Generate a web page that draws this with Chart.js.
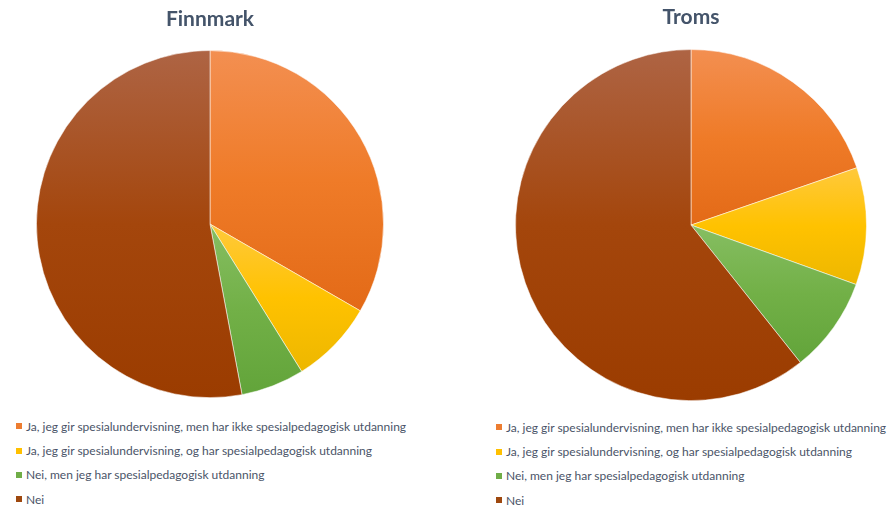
<!DOCTYPE html>
<html>
<head>
<meta charset="utf-8">
<script src="https://cdn.jsdelivr.net/npm/chart.js@4"></script>
<style>
  body { margin: 0; width: 891px; height: 506px; overflow: hidden; background: #fff; position: relative; font-family: Lato, sans-serif; }
  .pie { position: absolute; top: 0; }
  .legend { position: absolute; margin: 0; padding: 0; list-style: none; font-size: 12px; color: #4a5468; white-space: nowrap; }
  .legend li { height: 24.4px; display: flex; align-items: center; }
  .legend .box { display: inline-block; width: 6px; height: 6px; margin-right: 4px; }
</style>
</head>
<body>
<canvas id="finnmark" class="pie" width="400" height="398" style="left:10px"></canvas>
<canvas id="troms" class="pie" width="400" height="401" style="left:491px"></canvas>
<ul id="legendFinnmark" class="legend" style="left:16px; top:414px"></ul>
<ul id="legendTroms" class="legend" style="left:496px; top:415px"></ul>
<script>
const categories = [
  "Ja, jeg gir spesialundervisning, men har ikke spesialpedagogisk utdanning",
  "Ja, jeg gir spesialundervisning, og har spesialpedagogisk utdanning",
  "Nei, men jeg har spesialpedagogisk utdanning",
  "Nei"
];
const finnmarkValues = [33.3, 7.8, 5.9, 52.9];
const tromsValues = [19.7, 10.8, 8.8, 60.7];

const baseColors  = ["#ED7D31", "#FFC000", "#70AD47", "#9E480E"];
const lightColors = ["#F38F51", "#FFC93C", "#86BE62", "#AE6444"];
const midColors   = ["#EF7B28", "#FFC200", "#72B047", "#A4460C"];
const darkColors  = ["#E36A17", "#EDB700", "#62A43A", "#9B3C00"];

// excel-like gradient, one per slice, top to bottom of the slice's own box
function inArc(a0, a1, t) {
  for (let k = -1; k <= 2; k++) {
    const v = t + k * 2 * Math.PI;
    if (v >= a0 && v <= a1) return true;
  }
  return false;
}

const sliceGradient = {
  id: "sliceGradient",
  beforeDatasetsDraw(chart) {
    const ctx = chart.ctx;
    chart.getDatasetMeta(0).data.forEach((arc, i) => {
      const { x, y, startAngle, endAngle, outerRadius } = arc;
      let top = y, bottom = y;
      [startAngle, endAngle].forEach(a => {
        const py = y + Math.sin(a) * outerRadius;
        top = Math.min(top, py);
        bottom = Math.max(bottom, py);
      });
      if (inArc(startAngle, endAngle, -Math.PI / 2)) top = y - outerRadius;
      if (inArc(startAngle, endAngle, Math.PI / 2)) bottom = y + outerRadius;
      const g = ctx.createLinearGradient(0, top, 0, bottom);
      g.addColorStop(0, lightColors[i]);
      g.addColorStop(0.5, midColors[i]);
      g.addColorStop(1, darkColors[i]);
      arc.options = Object.assign({}, arc.options, { backgroundColor: g });
    });
  }
};

function makePie(id, title, values, titlePad) {
  new Chart(document.getElementById(id), {
    type: "pie",
    data: {
      labels: categories,
      datasets: [{
        data: values,
        backgroundColor: baseColors,
        borderColor: "rgba(255,255,255,0.7)",
        borderWidth: 0.75
      }]
    },
    options: {
      responsive: false,
      animation: false,
      layout: { padding: 0 },
      plugins: {
        legend: { display: false },
        tooltip: { enabled: false },
        title: {
          display: true,
          text: title,
          color: "#44546A",
          font: { family: "Lato", size: 21, weight: "bold", lineHeight: 1.2 },
          padding: titlePad
        }
      }
    },
    plugins: [sliceGradient]
  });
}

function makeLegend(id) {
  const ul = document.getElementById(id);
  categories.forEach((c, i) => {
    ul.innerHTML += `<li><span class="box" style="background:${baseColors[i]}"></span>${c}</li>`;
  });
}

makePie("finnmark", "Finnmark", finnmarkValues, { top: 7, bottom: 18 });
makePie("troms", "Troms", tromsValues, { top: 5, bottom: 19 });
makeLegend("legendFinnmark");
makeLegend("legendTroms");
</script>
</body>
</html>
